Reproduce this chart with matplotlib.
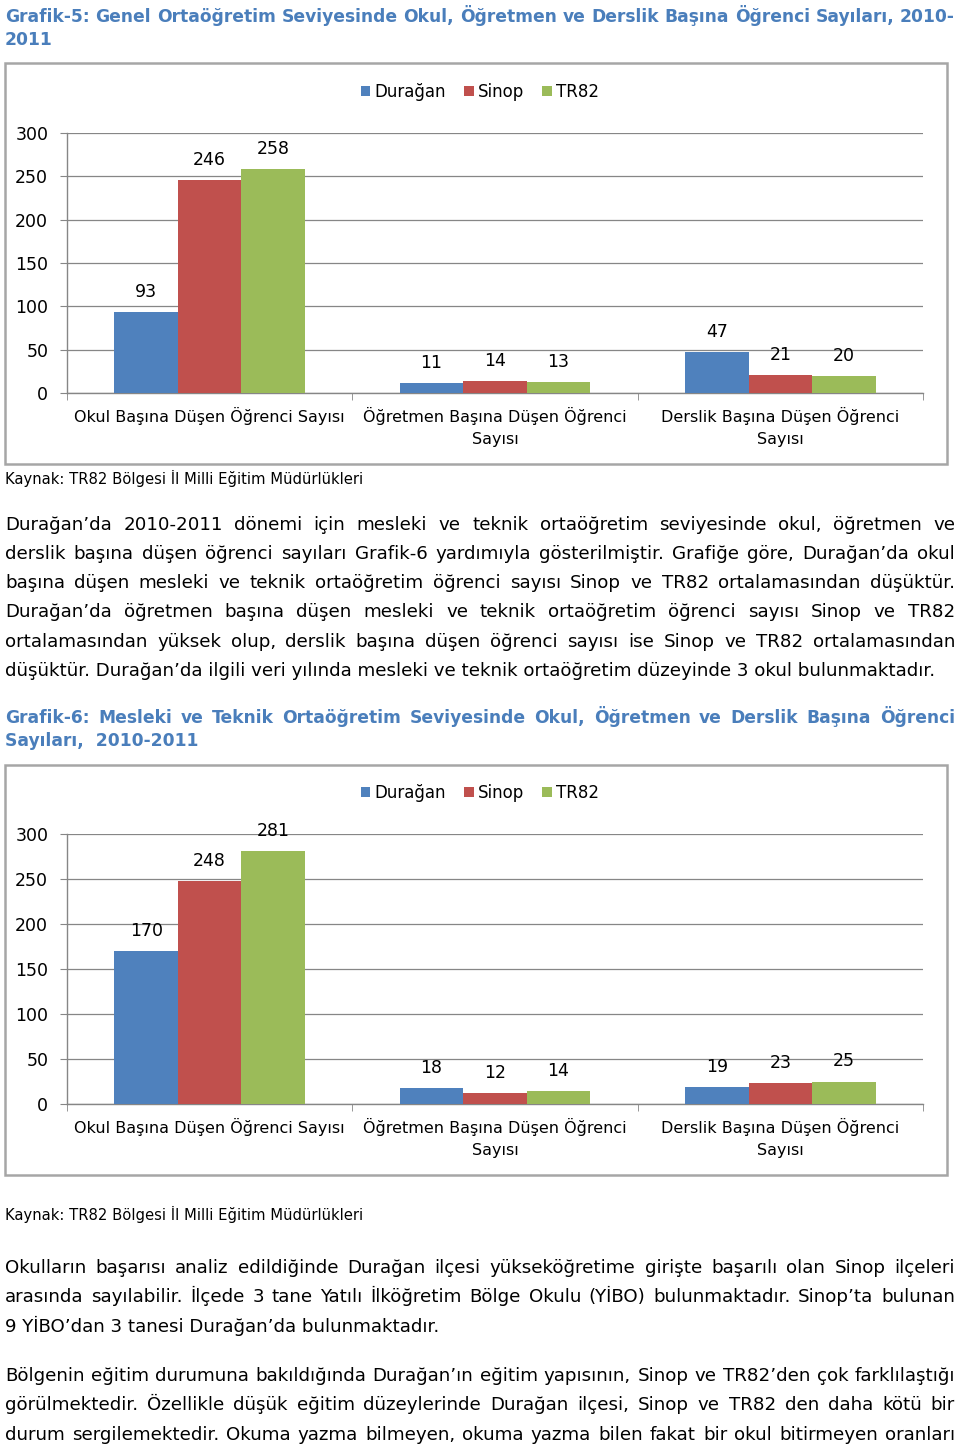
import matplotlib
matplotlib.use('Agg')
import matplotlib.pyplot as plt
from matplotlib.patches import Rectangle
import numpy as np

plt.rcParams['font.family'] = ['DejaVu Sans']

W, H = 960, 1447

# --- data ---
series = ['Durağan', 'Sinop', 'TR82']
colors = ['#4f81bd', '#c0504d', '#9bbb59']
categories = ['Okul Başına Düşen Öğrenci Sayısı',
              'Öğretmen Başına Düşen Öğrenci\nSayısı',
              'Derslik Başına Düşen Öğrenci\nSayısı']
yticks = [0, 50, 100, 150, 200, 250, 300]

genel_duragan = [93, 11, 47]
genel_sinop = [246, 14, 21]
genel_tr82 = [258, 13, 20]

mesleki_duragan = [170, 18, 19]
mesleki_sinop = [248, 12, 23]
mesleki_tr82 = [281, 14, 25]

title1 = ['Grafik-5: Genel Ortaöğretim Seviyesinde Okul, Öğretmen ve Derslik Başına Öğrenci Sayıları, 2010-',
          '2011']
title2 = ['Grafik-6: Mesleki ve Teknik Ortaöğretim Seviyesinde Okul, Öğretmen ve Derslik Başına Öğrenci',
          'Sayıları,  2010-2011']
kaynak = 'Kaynak: TR82 Bölgesi İl Milli Eğitim Müdürlükleri'

para1 = ['Durağan’da 2010-2011 dönemi için mesleki ve teknik ortaöğretim seviyesinde okul, öğretmen ve',
         'derslik başına düşen öğrenci sayıları Grafik-6 yardımıyla gösterilmiştir. Grafiğe göre, Durağan’da okul',
         'başına düşen mesleki ve teknik ortaöğretim öğrenci sayısı Sinop ve TR82 ortalamasından düşüktür.',
         'Durağan’da öğretmen başına düşen mesleki ve teknik ortaöğretim öğrenci sayısı Sinop ve TR82',
         'ortalamasından yüksek olup, derslik başına düşen öğrenci sayısı ise Sinop ve TR82 ortalamasından',
         'düşüktür. Durağan’da ilgili veri yılında mesleki ve teknik ortaöğretim düzeyinde 3 okul bulunmaktadır.']
para2 = ['Okulların başarısı analiz edildiğinde Durağan ilçesi yükseköğretime girişte başarılı olan Sinop ilçeleri',
         'arasında sayılabilir. İlçede 3 tane Yatılı İlköğretim Bölge Okulu (YİBO) bulunmaktadır. Sinop’ta bulunan',
         '9 YİBO’dan 3 tanesi Durağan’da bulunmaktadır.']
para3 = ['Bölgenin eğitim durumuna bakıldığında Durağan’ın eğitim yapısının, Sinop ve TR82’den çok farklılaştığı',
         'görülmektedir. Özellikle düşük eğitim düzeylerinde Durağan ilçesi, Sinop ve TR82 den daha kötü bir',
         'durum sergilemektedir. Okuma yazma bilmeyen, okuma yazma bilen fakat bir okul bitirmeyen oranları']

fig = plt.figure(figsize=(W / 100, H / 100), dpi=100)
renderer = fig.canvas.get_renderer()
TITLE_C = '#4a7ebb'


def fx(x):
    return x / W


def fy(y):
    return 1 - y / H


def text_width(s, size, weight='normal'):
    t = fig.text(0, 0, s, fontsize=size, fontweight=weight)
    w = t.get_window_extent(renderer).width
    t.remove()
    return w


def fit_size(lines, target, weight='normal'):
    return min(10 * target / text_width(s, 10, weight) for s in lines)


def put_line(s, y, size, justify=True, weight='normal', color='black', x0=5, x1=955):
    # y is the visual middle of the line; place on a common baseline
    base = y + 0.36 * size * 100 / 72
    kw = dict(fontsize=size, fontweight=weight, color=color, va='baseline')
    if not justify:
        fig.text(fx(x0), fy(base), s, **kw)
        return
    words = s.split()
    objs = [fig.text(0, 0, w, **kw) for w in words]
    widths = [o.get_window_extent(renderer).width for o in objs]
    gap = (x1 - x0 - sum(widths)) / (len(words) - 1)
    x = x0
    for o, w in zip(objs, widths):
        o.set_position((fx(x), fy(base)))
        x += w + gap


def chart(vals, top, zero, legend_y, frame, kaynak_y):
    # frame
    x0, y0, x1, y1 = frame
    fig.patches.append(Rectangle((fx(x0), fy(y1)), fx(x1 - x0), (y1 - y0) / H,
                                 transform=fig.transFigure, fill=False,
                                 edgecolor='#a6a6a6', lw=1.8))
    ax = fig.add_axes([fx(67), fy(zero), fx(923 - 67), (zero - top) / H])
    x = np.arange(len(categories))
    bw = 0.2226
    bars = []
    for i, (name, v) in enumerate(zip(series, vals)):
        b = ax.bar(x + (i - 1) * bw, v, bw, color=colors[i], label=name, zorder=3)
        bars.append(b)
        for xi, vi in zip(x + (i - 1) * bw, v):
            ax.annotate(str(vi), (xi, vi), xytext=(0, 14.4), textcoords='offset points',
                        ha='center', va='center', fontsize=12.5)
    ax.set_xlim(-0.5, 2.5)
    ax.set_ylim(0, 300)
    ax.set_yticks(yticks)
    ax.tick_params(axis='y', length=5, color='#868686', labelsize=12.5, pad=8.5)
    ax.set_xticks(x)
    ax.set_xticklabels(categories, fontsize=11.5, linespacing=1.55)
    ax.tick_params(axis='x', which='major', length=0, pad=10)
    ax.set_xticks([-0.5, 0.5, 1.5, 2.5], minor=True)
    ax.tick_params(axis='x', which='minor', length=5, color='#868686')
    ax.grid(axis='y', color='#868686', lw=0.9, zorder=0)
    for s in ['top', 'right']:
        ax.spines[s].set_visible(False)
    for s in ['left', 'bottom']:
        ax.spines[s].set_color('#868686')
        ax.spines[s].set_linewidth(1.0)
    fig.legend(handles=bars, labels=series, loc='center', ncol=3,
               bbox_to_anchor=(fx(480), fy(legend_y)), bbox_transform=fig.transFigure,
               frameon=False, fontsize=12, handlelength=0.55, handleheight=0.55,
               handletextpad=0.25, columnspacing=1.1)
    put_line(kaynak, kaynak_y, ksize, justify=False)


body_size = fit_size(para1[:5] + para2[:2] + para3, 948)
body_size = min(body_size, fit_size([para1[5]], 935))
title_size = fit_size([title1[0], title2[0]], 948, 'bold')
ksize = fit_size([kaynak], 356)

# titles
put_line(title1[0], 16, title_size, weight='bold', color=TITLE_C)
put_line(title1[1], 39, title_size, justify=False, weight='bold', color=TITLE_C)
put_line(title2[0], 717, title_size, weight='bold', color=TITLE_C)
put_line(title2[1], 740, title_size, justify=False, weight='bold', color=TITLE_C)

chart([genel_duragan, genel_sinop, genel_tr82], 133, 393, 92, (5, 63, 947, 464), 479)
chart([mesleki_duragan, mesleki_sinop, mesleki_tr82], 834, 1104, 793, (5, 765, 947, 1175), 1215)

for i, (s, y) in enumerate(zip(para1, [523, 552, 581, 610, 640, 669])):
    put_line(s, y, body_size, justify=(i < 5))
for i, (s, y) in enumerate(zip(para2, [1266, 1295, 1325])):
    put_line(s, y, body_size, justify=(i < 2))
for s, y in zip(para3, [1374, 1403, 1433]):
    put_line(s, y, body_size)

fig.savefig('out.png', dpi=100)
